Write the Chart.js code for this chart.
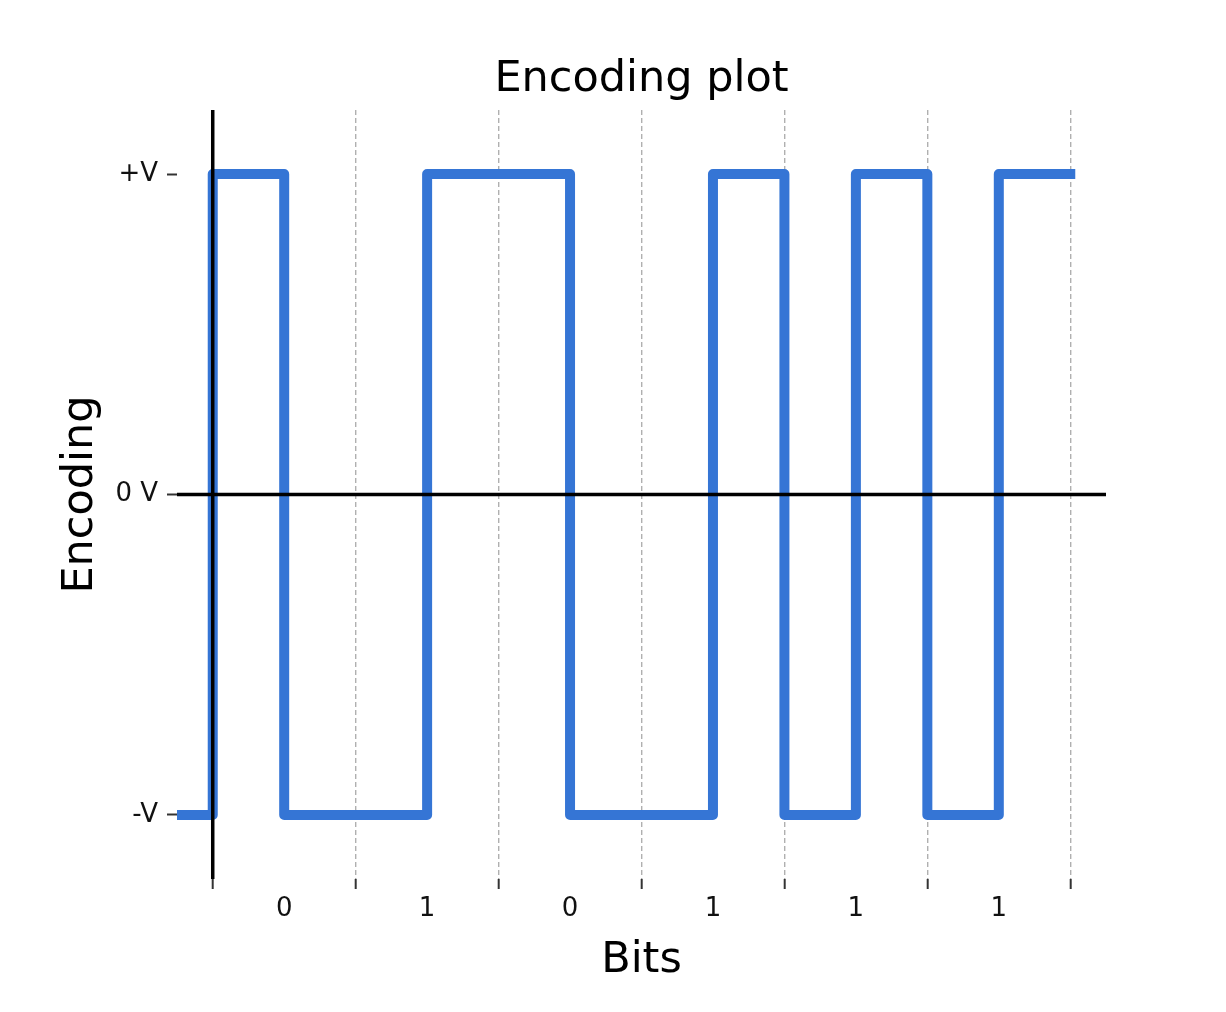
<!DOCTYPE html>
<html>
<head>
<meta charset="utf-8">
<script src="https://cdn.jsdelivr.net/npm/chart.js@4/dist/chart.umd.min.js"></script>
<style>
  html, body { margin: 0; padding: 0; background: #fff; }
</style>
</head>
<body>
<canvas id="encoding" width="1226" height="1012"></canvas>
<script>
// Manchester style encoding plot

const bitLabels = ["0", "1", "0", "1", "1", "1"];
const bitCenters = [0.5, 1.5, 2.5, 3.5, 4.5, 5.5];
const bitEdges = [0, 1, 2, 3, 4, 5, 6];

// signal level changes (x position, level after it)
const stepX = [-0.25, 0, 0.5, 1.5, 2.5, 3.5, 4, 4.5, 5, 5.5, 6];
const stepLevel = [-1, 1, -1, 1, -1, 1, -1, 1, -1, 1, 1];

const levelTicks = [-1, 0, 1];
const levelLabels = ["-V", "0 V", "+V"];

const xMin = -0.25, xMax = 6.25;
const yMin = -1.2, yMax = 1.2;

const xTicks = bitEdges.concat(bitCenters).sort((a, b) => a - b);
const isEdge = (v) => bitEdges.includes(v);

const font = "'DejaVu Sans', sans-serif";

let ctx = document.getElementById("encoding").getContext("2d");
let encodingChart = new Chart(ctx, {
  type: "line",
  data: {
    datasets: [
      {
        label: "zero",
        data: [{ x: xMin, y: 0 }, { x: xMax, y: 0 }],
        borderColor: "#000",
        borderWidth: 3.5,
        pointRadius: 0,
        clip: 0,
        order: 0,
      },
      {
        label: "origin",
        data: [{ x: 0, y: yMin }, { x: 0, y: yMax }],
        borderColor: "#000",
        borderWidth: 3.5,
        pointRadius: 0,
        clip: 0,
        order: 0,
      },
      {
        label: "signal",
        data: stepX.map((x, i) => ({ x: x, y: stepLevel[i] })),
        stepped: true,
        borderColor: "#3575d5",
        borderWidth: 10,
        borderJoinStyle: "round",
        borderCapStyle: "square",
        pointRadius: 0,
        clip: 0,
        order: 1,
      },
    ],
  },
  options: {
    responsive: false,
    devicePixelRatio: 1,
    animation: false,
    layout: { padding: { left: 0, right: 120, top: 0, bottom: 0 } },
    plugins: {
      legend: { display: false },
      tooltip: { enabled: false },
      title: { display: false },
    },
    scales: {
      // top axis only carries the plot title, so it centres over the plot area
      top: {
        type: "linear",
        position: "top",
        min: xMin,
        max: xMax,
        afterFit: (scale) => {
          scale.height = 110;
        },
        border: { display: false },
        grid: { display: false },
        ticks: { display: false },
        title: {
          display: true,
          text: "Encoding plot",
          color: "#000",
          font: { family: font, size: 43 },
          padding: { top: 54, bottom: 0 },
        },
      },
      x: {
        type: "linear",
        min: xMin,
        max: xMax,
        afterBuildTicks: (scale) => {
          scale.ticks = xTicks.map((v) => ({ value: v }));
        },
        afterFit: (scale) => {
          scale.height = 133;
        },
        border: {
          display: false,
          dash: [5, 3],
        },
        grid: {
          color: (c) => (c.tick && isEdge(c.tick.value) ? "#b0b0b0" : "rgba(0,0,0,0)"),
          lineWidth: 1.4,
          tickColor: (c) => (c.tick && isEdge(c.tick.value) ? "#333" : "rgba(0,0,0,0)"),
          tickLength: 10,
          tickWidth: 2,
        },
        ticks: {
          autoSkip: false,
          maxRotation: 0,
          padding: 5,
          color: "#111",
          font: { family: font, size: 26 },
          callback: (v) => {
            const i = bitCenters.indexOf(v);
            return i >= 0 ? bitLabels[i] : "";
          },
        },
        title: {
          display: true,
          text: "Bits",
          color: "#000",
          font: { family: font, size: 43 },
          padding: { top: 0, bottom: 25 },
        },
      },
      y: {
        type: "linear",
        min: yMin,
        max: yMax,
        afterBuildTicks: (scale) => {
          scale.ticks = levelTicks.map((v) => ({ value: v }));
        },
        afterFit: (scale) => {
          scale.width = 177;
        },
        border: { display: false },
        grid: {
          drawOnChartArea: false,
          tickColor: "#333",
          tickLength: 10,
          tickWidth: 2,
        },
        ticks: {
          padding: 9,
          color: "#111",
          font: { family: font, size: 26 },
          callback: (v) => {
            const i = levelTicks.indexOf(v);
            return i >= 0 ? levelLabels[i] : "";
          },
        },
        title: {
          display: true,
          text: "Encoding",
          color: "#000",
          font: { family: font, size: 43 },
          padding: { top: 55, bottom: 0 },
        },
      },
    },
  },
});
</script>
</body>
</html>
